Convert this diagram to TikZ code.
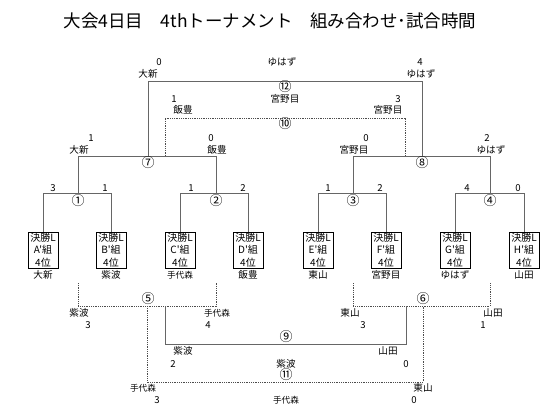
\documentclass[tikz,border=0pt]{standalone}
\usepackage{fontspec}
\newfontfamily\jp{Noto Sans CJK JP}
\begin{document}
\begin{tikzpicture}[x=1pt,y=-1pt,
  lbl/.style={font=\jp\fontsize{9.6}{10}\selectfont, inner sep=0pt},
  sml/.style={font=\jp\fontsize{8.6}{10}\selectfont, inner sep=0pt},
  mno/.style={font=\jp\fontsize{13}{13}\selectfont, inner sep=0pt},
  box/.style={draw=black, line width=0.9pt, minimum width=30pt, minimum height=36pt, inner sep=0pt, align=center, font=\jp\fontsize{10}{12.2}\selectfont},
  sol/.style={draw=black!60, line width=1pt},
  dts/.style={draw=black!70, line width=0.8pt, dash pattern=on 0.9pt off 0.9pt}]
\useasboundingbox (0,0) rectangle (553,413);
\node[font=\jp\fontsize{17.5}{18}\selectfont, inner sep=0pt] (title) at (270,21) {大会4日目　4thトーナメント　組み合わせ･試合時間};

% boxes
\node[box] (bA) at (43,250) {決勝L\\A'組\\4位};
\node[box] (bB) at (111,250) {決勝L\\B'組\\4位};
\node[box] (bC) at (180,250) {決勝L\\C'組\\4位};
\node[box] (bD) at (248,250) {決勝L\\D'組\\4位};
\node[box] (bE) at (318,250) {決勝L\\E'組\\4位};
\node[box] (bF) at (386,250) {決勝L\\F'組\\4位};
\node[box] (bG) at (455,250) {決勝L\\G'組\\4位};
\node[box] (bH) at (524,250) {決勝L\\H'組\\4位};
% names under boxes
\node[lbl] (nA) at (43,275) {大新};
\node[lbl] (nB) at (111,275) {紫波};
\node[sml] (nC) at (180,275) {手代森};
\node[lbl] (nD) at (248,275) {飯豊};
\node[lbl] (nE) at (318,275) {東山};
\node[lbl] (nF) at (386,275) {宮野目};
\node[lbl] (nG) at (455,275) {ゆはず};
\node[lbl] (nH) at (524,275) {山田};

% round 1 coordinates
\coordinate (m1L) at (bA.north |- 0,193);
\coordinate (m1R) at (bB.north |- 0,193);
\coordinate (m2L) at (bC.north |- 0,193);
\coordinate (m2R) at (bD.north |- 0,193);
\coordinate (m3L) at (bE.north |- 0,193);
\coordinate (m3R) at (bF.north |- 0,193);
\coordinate (m4L) at (bG.north |- 0,193);
\coordinate (m4R) at (bH.north |- 0,193);
\coordinate (m1c) at (78,193);
\coordinate (m2c) at (216,193);
\coordinate (m3c) at (353,193);
\coordinate (m4c) at (490,193);
\coordinate (m7L) at (78,156);
\coordinate (m7R) at (216,156);
\coordinate (m8L) at (353,156);
\coordinate (m8R) at (490,156);
\coordinate (m7c) at (148,156);
\coordinate (m8c) at (422,156);
\coordinate (m12L) at (148,81);
\coordinate (m12R) at (422,81);
\coordinate (m10a) at (165,156);
\coordinate (m10b) at (165,118);
\coordinate (m10c) at (405,118);
\coordinate (m10d) at (405,156);

\draw[sol] (bA.north) -- (m1L) -- (m1R) -- (bB.north);
\draw[sol] (bC.north) -- (m2L) -- (m2R) -- (bD.north);
\draw[sol] (bE.north) -- (m3L) -- (m3R) -- (bF.north);
\draw[sol] (bG.north) -- (m4L) -- (m4R) -- (bH.north);
\draw[sol] (m1c) -- (m7L) -- (m7R) -- (m2c);
\draw[sol] (m3c) -- (m8L) -- (m8R) -- (m4c);
\draw[sol] (m7c) -- (m12L) -- (m12R) -- (m8c);
\draw[dts] (m10a) -- (m10b) -- (m10c) -- (m10d);

% circled numbers
\node[mno] (c1) at (78,201) {①};
\node[mno] (c2) at (216,201) {②};
\node[mno] (c3) at (353,201) {③};
\node[mno] (c4) at (490,201) {④};
\node[mno] (c7) at (148,163) {⑦};
\node[mno] (c8) at (422,163) {⑧};
\node[mno] (c12) at (285,87) {⑫};
\node[mno] (c10) at (285,124) {⑩};

% round 1 scores
\node[lbl] (s1a) at (53,188) {3};
\node[lbl] (s1b) at (105,188) {1};
\node[lbl] (s2a) at (191,188) {1};
\node[lbl] (s2b) at (243,188) {2};
\node[lbl] (s3a) at (328,188) {1};
\node[lbl] (s3b) at (380,188) {2};
\node[lbl] (s4a) at (467,188) {4};
\node[lbl] (s4b) at (518,188) {0};
% match 7, 8
\node[lbl] (s7a) at (91,138) {1};
\node[lbl] (t7a) at (79,150) {大新};
\node[lbl] (s7b) at (211,138) {0};
\node[lbl] (t7b) at (217,150) {飯豊};
\node[lbl] (s8a) at (366,138) {0};
\node[lbl] (t8a) at (354,150) {宮野目};
\node[lbl] (s8b) at (487,138) {2};
\node[lbl] (t8b) at (491,150) {ゆはず};
% match 12
\node[lbl] (s12a) at (159,62) {0};
\node[lbl] (t12a) at (148,74) {大新};
\node[lbl] (w12) at (282,62) {ゆはず};
\node[lbl] (s12b) at (420,62) {4};
\node[lbl] (t12b) at (421,74) {ゆはず};
% match 10
\node[lbl] (s10a) at (174,99) {1};
\node[lbl] (t10a) at (183,110) {飯豊};
\node[lbl] (w10) at (285,99) {宮野目};
\node[lbl] (s10b) at (398,99) {3};
\node[lbl] (t10b) at (388,110) {宮野目};

% lower bracket
\coordinate (m5a) at (78,283);
\coordinate (m5L) at (78,306);
\coordinate (m5R) at (216,306);
\coordinate (m5b) at (216,283);
\coordinate (m6a) at (353,283);
\coordinate (m6L) at (353,306);
\coordinate (m6R) at (490,306);
\coordinate (m6b) at (490,283);
\draw[dts] (m5a) -- (m5L) -- (m5R) -- (m5b);
\draw[dts] (m6a) -- (m6L) -- (m6R) -- (m6b);
\coordinate (m9a) at (165,306);
\coordinate (m9b) at (165,344);
\coordinate (m9c) at (406,344);
\coordinate (m9d) at (406,306);
\draw[sol] (m9a) -- (m9b) -- (m9c) -- (m9d);
\coordinate (m11a) at (147,306);
\coordinate (m11b) at (147,382);
\coordinate (m11c) at (423,382);
\coordinate (m11d) at (423,306);
\draw[dts] (m11a) -- (m11b) -- (m11c) -- (m11d);

\node[mno] (c5) at (148,299) {⑤};
\node[mno] (c6) at (423,299) {⑥};
\node[mno] (c9) at (286,337) {⑨};
\node[mno] (c11) at (286,375) {⑪};

\node[lbl] (t5a) at (79,313) {紫波};
\node[lbl] (s5a) at (88,325) {3};
\node[sml] (t5b) at (217,313) {手代森};
\node[lbl] (s5b) at (208,325) {4};
\node[lbl] (t6a) at (350,313) {東山};
\node[lbl] (s6a) at (363,325) {3};
\node[lbl] (t6b) at (493,313) {山田};
\node[lbl] (s6b) at (483,325) {1};
\node[lbl] (t9a) at (183,351) {紫波};
\node[lbl] (s9a) at (173,364) {2};
\node[lbl] (t9b) at (388,351) {山田};
\node[lbl] (s9b) at (406,364) {0};
\node[lbl] (w9) at (286,364) {紫波};
\node[sml] (t11a) at (143,388) {手代森};
\node[lbl] (s11a) at (157,400) {3};
\node[lbl] (t11b) at (423,388) {東山};
\node[lbl] (s11b) at (414,400) {0};
\node[sml] (w11) at (286,400) {手代森};
\end{tikzpicture}
\end{document}
